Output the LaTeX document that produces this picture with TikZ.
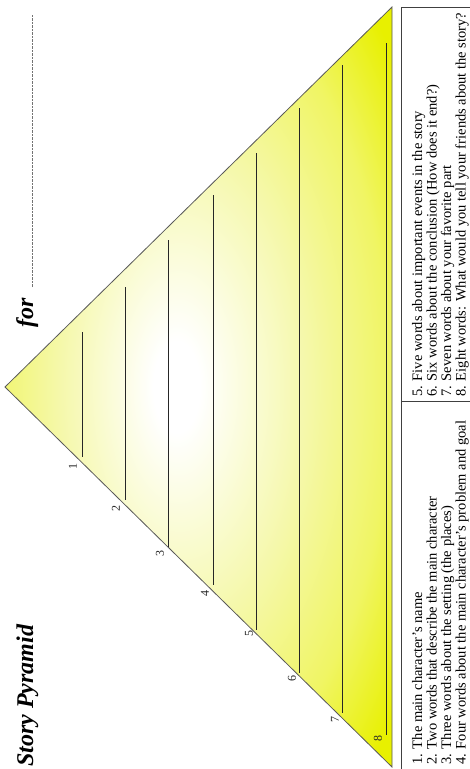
\documentclass[tikz,border=0pt]{standalone}
\usepackage{fontspec}
\setmainfont{Liberation Serif}
\definecolor{pyrfull}{RGB}{232,240,0}
\definecolor{pyrmid}{RGB}{240,245,100}
\definecolor{pyrpale}{RGB}{245,248,170}
\pgfdeclareradialshading{pyrshade}{\pgfpoint{-3bp}{0bp}}{color(0bp)=(white); color(3bp)=(white); color(16bp)=(pyrpale); color(26bp)=(pyrmid); color(34bp)=(pyrfull); color(50bp)=(pyrfull)}
\begin{document}
\begin{tikzpicture}[x=1pt,y=-1pt,
  rule/.style={line width=0.9pt, black!85},
  numlab/.style={rotate=90, font=\fontsize{12}{12}\selectfont, text=black!85, inner sep=0pt},
  item/.style={rotate=90, anchor=base west, inner sep=0pt, font=\fontsize{14.5}{14.5}\selectfont},
  titlefont/.style={rotate=90, anchor=base west, inner sep=0pt, font=\fontsize{24}{24}\selectfont\bfseries\itshape},
  frame/.style={black!75, line width=0.8pt}]
\useasboundingbox (0,0) rectangle (470,769);
% triangle
\coordinate (apex) at (5,387);
\coordinate (tr) at (392,7);
\coordinate (br) at (392,767);
\shadedraw[shading=pyrshade, draw=black!65, line width=0.8pt] (apex) -- (tr) -- (br) -- cycle;
% writing lines
\foreach \i/\x/\t/\b in {1/82/332/457, 2/125/287/500, 3/168/240/547, 4/213/195/585,
                         5/256/153/630, 6/299/108/673, 7/342/65/713, 8/386/43/735} {
  \coordinate (t\i) at (\x,\t);
  \coordinate (b\i) at (\x,\b);
  \draw[rule] (t\i) -- (b\i);
}
% numbers
\node[numlab] (n1) at (73,466) {1};
\node[numlab] (n2) at (116,508) {2};
\node[numlab] (n3) at (160,553) {3};
\node[numlab] (n4) at (205,593) {4};
\node[numlab] (n5) at (249,633) {5};
\node[numlab] (n6) at (292,678) {6};
\node[numlab] (n7) at (335,719) {7};
\node[numlab] (n8) at (378,738) {8};
% title
\node[titlefont] (title) at (33,767) {Story Pyramid};
\node[titlefont] (for) at (33,328) {for};
\coordinate (d1) at (32,287);
\coordinate (d2) at (32,15);
\draw[black!55, line width=0.7pt, dash pattern=on 0.7pt off 0.7pt] (d1) -- (d2);
% table
\coordinate (tabA) at (401,7);
\coordinate (tabB) at (480,780);
\coordinate (divL) at (401,401);
\coordinate (divR) at (480,401);
\draw[frame] (tabA) rectangle (tabB);
\draw[frame] (divL) -- (divR);
\node[item] (i1) at (422,765) {1. The main character's name};
\node[item] (i2) at (436.5,765) {2. Two words that describe the main character};
\node[item] (i3) at (451,765) {3. Three words about the setting (the places)};
\node[item] (i4) at (465.5,765) {4. Four words about the main character's problem and goal};
\node[item] (i5) at (422,397) {5. Five words about important events in the story};
\node[item] (i6) at (436.5,397) {6. Six words about the conclusion (How does it end?)};
\node[item] (i7) at (451,397) {7. Seven words about your favorite part};
\node[item] (i8) at (465.5,397) {8. Eight words: What would you tell your friends about the story?};
\end{tikzpicture}
\end{document}
